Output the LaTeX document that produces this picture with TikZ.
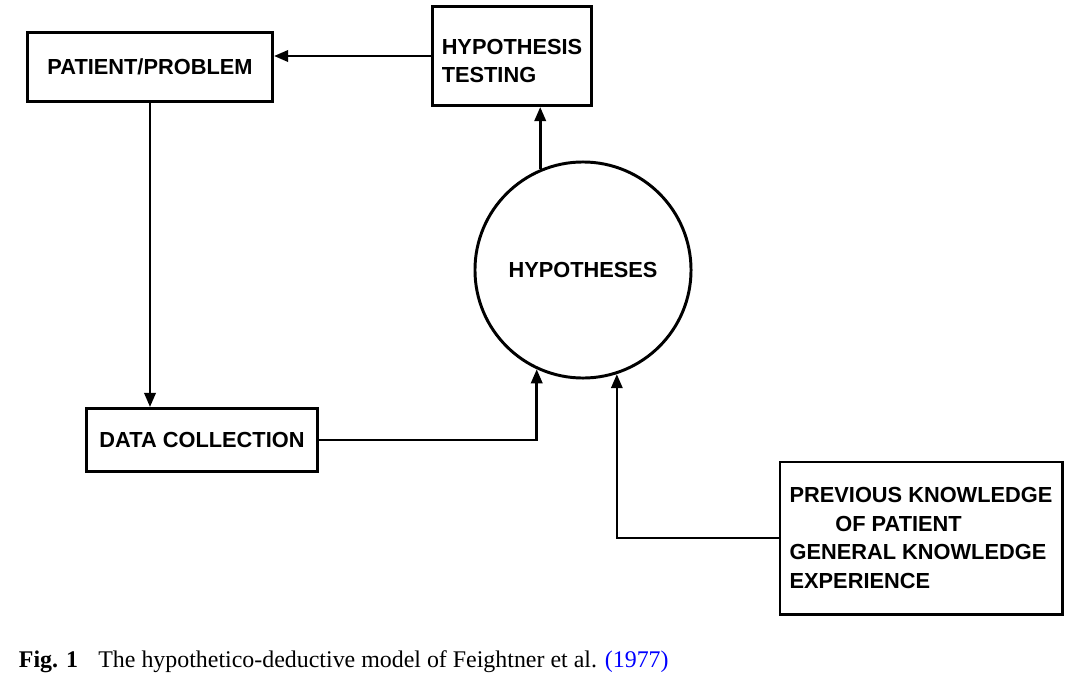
\documentclass[tikz,border=0pt]{standalone}
\usepackage{fontspec}
\setmainfont{Liberation Sans}
\newfontfamily\capfont{Liberation Serif}
\usepackage{tikz}
\usetikzlibrary{arrows.meta,calc,positioning}
\usepackage{xcolor}

\tikzset{
    box/.style={draw, line width=2.1pt, inner sep=0pt, font=\fontsize{15.5}{20.5}\selectfont\bfseries},
    arr/.style={line width=1.9pt, -{Triangle[length=10pt,width=8pt]}}
}

\begin{document}
\begin{tikzpicture}[x=0.025cm,y=-0.025cm]
    \useasboundingbox (0,0) rectangle (1083,691);
    \node[box, minimum width=6.125cm, minimum height=1.725cm] (pp) at (150,67) {PATIENT/PROBLEM};
    \node[box, minimum width=3.975cm, minimum height=2.475cm, align=left] (ht) at (512,56) {\rule{0pt}{18pt}HYPOTHESIS\\TESTING};
    \node[box, minimum width=5.775cm, minimum height=1.575cm] (dc) at (202,440) {DATA COLLECTION};
    \node[box, circle, minimum size=5.4cm] (hyp) at (583,270) {HYPOTHESES};
    \node[box, minimum width=7.05cm, minimum height=3.8cm, align=left] (pk) at (921,538)
        {PREVIOUS KNOWLEDGE\\\hspace*{2.1em}OF PATIENT\\GENERAL KNOWLEDGE\\EXPERIENCE};
    \draw[arr] (ht.west) -- (ht.west -| pp.east);
    \draw[arr] (pp.south) -- (pp.south |- dc.north);
    \draw[arr] (dc.east) -| (hyp.245);
    \draw[arr] (pk.west) -| (hyp.288);
    \draw[arr] (hyp.113) -- (hyp.113 |- ht.south);
    \node[anchor=west, font=\capfont\fontsize{17}{20}\selectfont] (cap) at (14,662)
        {\textbf{Fig. 1}\hspace{0.6em} The hypothetico-deductive model of Feightner et al. {\color{blue}(1977)}};
\end{tikzpicture}
\end{document}
